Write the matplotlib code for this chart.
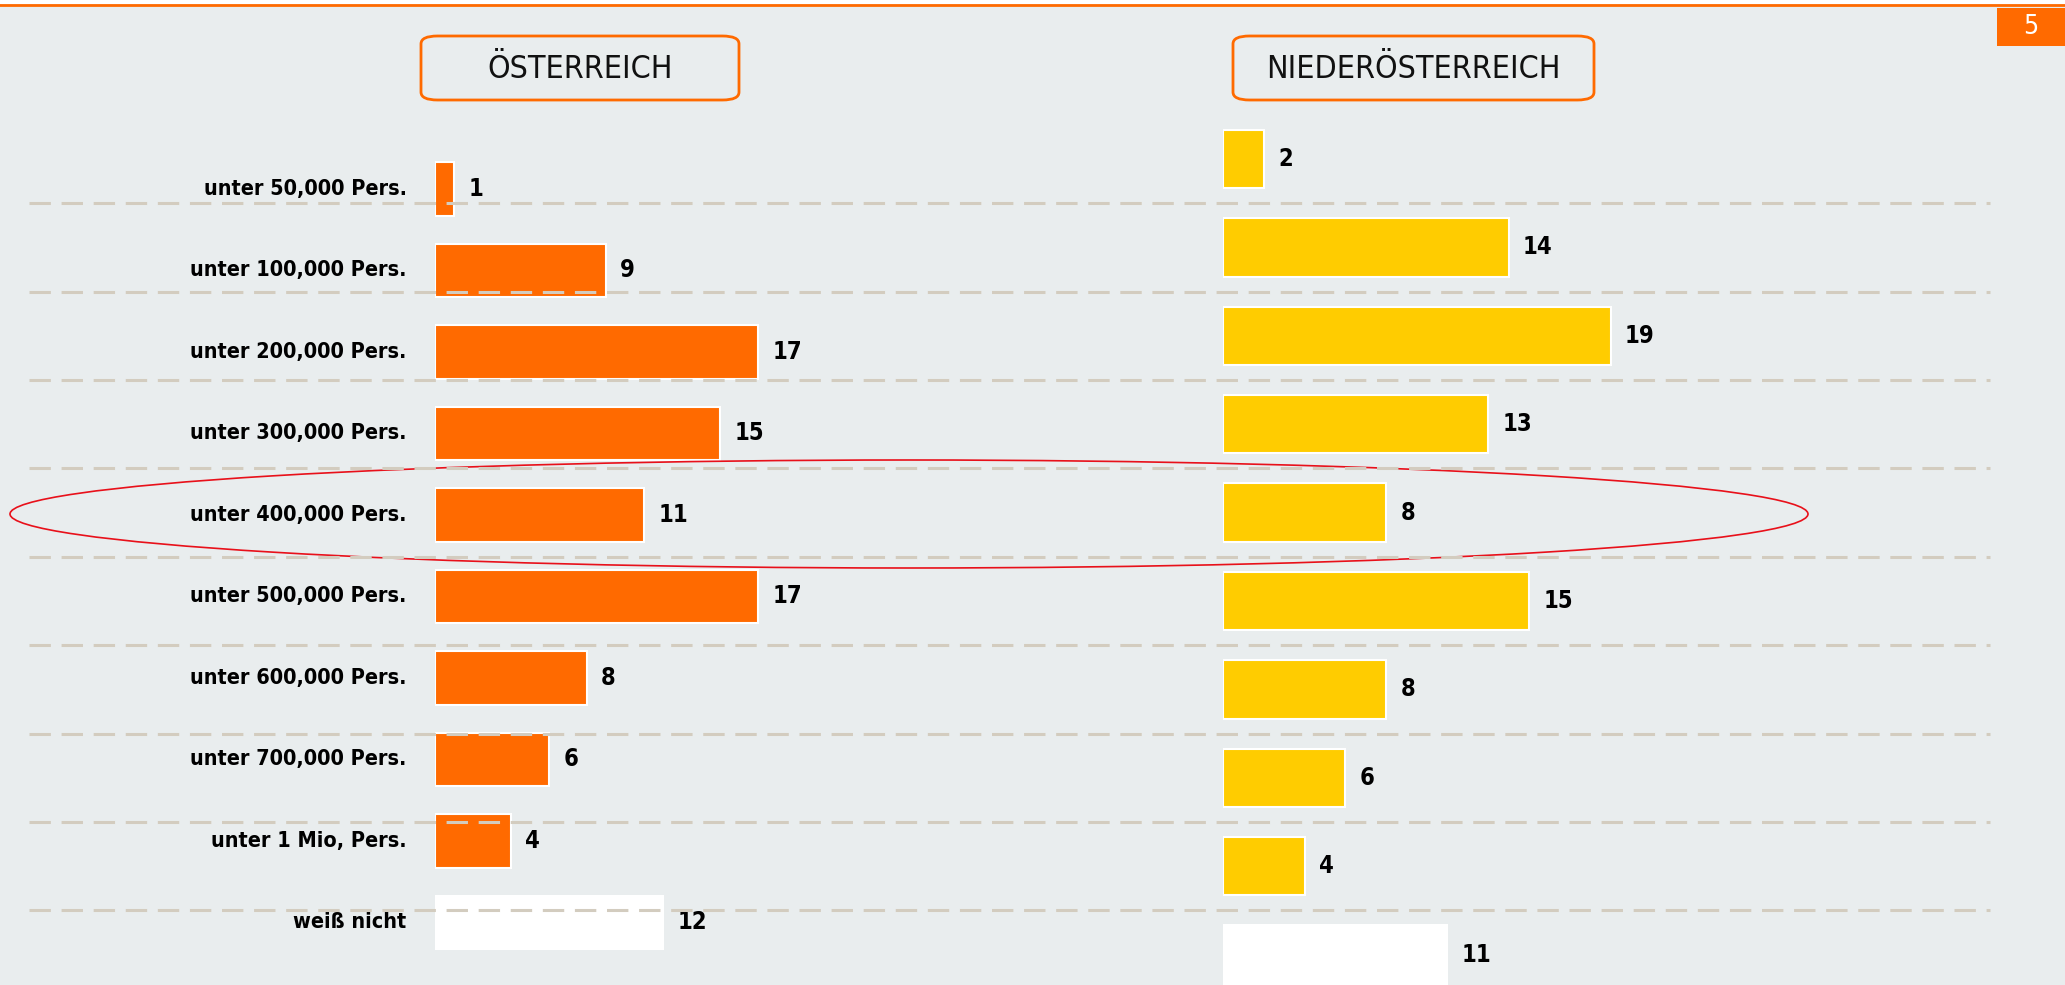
import matplotlib

matplotlib.use("Agg")
import matplotlib.pyplot as plt
from matplotlib import font_manager
from matplotlib.patches import FancyBboxPatch, Rectangle, Ellipse
from matplotlib.lines import Line2D
from matplotlib.transforms import blended_transform_factory

# --------------------------------------------------------------------------- #
# Data
# --------------------------------------------------------------------------- #
categories = [
    "unter 50,000 Pers.",
    "unter 100,000 Pers.",
    "unter 200,000 Pers.",
    "unter 300,000 Pers.",
    "unter 400,000 Pers.",
    "unter 500,000 Pers.",
    "unter 600,000 Pers.",
    "unter 700,000 Pers.",
    "unter 1 Mio, Pers.",
    "weiß nicht",
]
austria = [1, 9, 17, 15, 11, 17, 8, 6, 4, 12]
lower_austria = [2, 14, 19, 13, 8, 15, 8, 6, 4, 11]
panel_titles = ["ÖSTERREICH", "NIEDERÖSTERREICH"]
page_number = "5"

# --------------------------------------------------------------------------- #
# Style
# --------------------------------------------------------------------------- #
W, H = 2065, 985
BG = "#E9EDEE"
ORANGE = "#FF6A00"
YELLOW = "#FFCC00"
GRID = "#D3CCBF"

# pick a narrow face if one is installed
names = {f.name for f in font_manager.fontManager.ttflist}
if "Liberation Sans Narrow" in names:
    NARROW = dict(family="Liberation Sans Narrow")
else:
    NARROW = dict(family="DejaVu Sans", stretch="condensed")

fig = plt.figure(figsize=(W / 100, H / 100), dpi=100, facecolor=BG)


def place_axes(x0, px_per_unit, xmax, y0, row_px, ytop, ybot):
    """Axes whose data units map to pixel positions measured from the top-left."""
    top_px = y0 + ytop * row_px
    bot_px = y0 + ybot * row_px
    ax = fig.add_axes([x0 / W, 1 - bot_px / H, xmax * px_per_unit / W, (bot_px - top_px) / H])
    ax.set_xlim(0, xmax)
    ax.set_ylim(ybot, ytop)
    ax.axis("off")
    ax.patch.set_alpha(0)
    return ax


ax_l = place_axes(435, 19.0, 30, 189, 81.5, -1.6, 9.7)
ax_r = place_axes(1223, 20.4, 30, 159, 88.4, -1.4, 9.35)

# white strip + orange rule at the very top
fig.add_artist(Rectangle((0, 1 - 4 / H), 1, 4 / H, transform=fig.transFigure,
                         facecolor="white", edgecolor="none"))
fig.add_artist(Line2D([0, 1], [1 - 5 / H, 1 - 5 / H], transform=fig.transFigure,
                      color=ORANGE, lw=2))

# page number box
fig.add_artist(Rectangle((1997 / W, 1 - 46 / H), 68 / W, 38 / H, transform=fig.transFigure,
                         facecolor=ORANGE, edgecolor="none"))
fig.text(2031 / W, 1 - 27 / H, page_number, color="white", fontsize=19,
         ha="center", va="center", **NARROW)

# dashed separators (follow the right panel's rows)
trans = blended_transform_factory(fig.transFigure, ax_r.transData)
for i in range(len(categories) - 1):
    fig.add_artist(Line2D([29 / W, 1990 / W], [i + 0.5, i + 0.5], transform=trans,
                          color=GRID, lw=2.2, dashes=(7, 3.5)))

# bars
ypos = list(range(len(categories)))
colors_l = [ORANGE] * (len(categories) - 1) + ["white"]
colors_r = [YELLOW] * (len(categories) - 1) + ["white"]
ax_l.barh(ypos, austria, height=0.66, color=colors_l, edgecolor="white", linewidth=1.5)
ax_r.barh(ypos, lower_austria, height=0.66, color=colors_r, edgecolor="white", linewidth=1.5)

for y, v in zip(ypos, austria):
    ax_l.text(v + 0.75, y, str(v), fontsize=17, fontweight="bold",
              ha="left", va="center", **NARROW)
for y, v in zip(ypos, lower_austria):
    ax_r.text(v + 0.7, y, str(v), fontsize=17, fontweight="bold",
              ha="left", va="center", **NARROW)

# category labels on the left panel
for y, lab in zip(ypos, categories):
    ax_l.text(-1.5, y, lab, fontsize=15.5, fontweight="bold",
              ha="right", va="center", **NARROW)

# panel title boxes
for (x0, x1), title in zip([(421, 739), (1233, 1594)], panel_titles):
    fig.add_artist(FancyBboxPatch((x0 / W, 1 - 100 / H), (x1 - x0) / W, 64 / H,
                                  boxstyle="round,pad=0,rounding_size=0.008",
                                  transform=fig.transFigure, facecolor=BG,
                                  edgecolor=ORANGE, lw=2))
    fig.text((x0 + x1) / 2 / W, 1 - 70 / H, title, fontsize=23,
             ha="center", va="center", color="#111111", **NARROW)

# red highlight ellipse around "unter 400,000"
fig.add_artist(Ellipse((909 / W, 1 - 514 / H), 1798 / W, 108 / H, transform=fig.transFigure,
                       facecolor="none", edgecolor="#E8101A", lw=1.2))

fig.savefig("out.png", dpi=100, facecolor=fig.get_facecolor())
